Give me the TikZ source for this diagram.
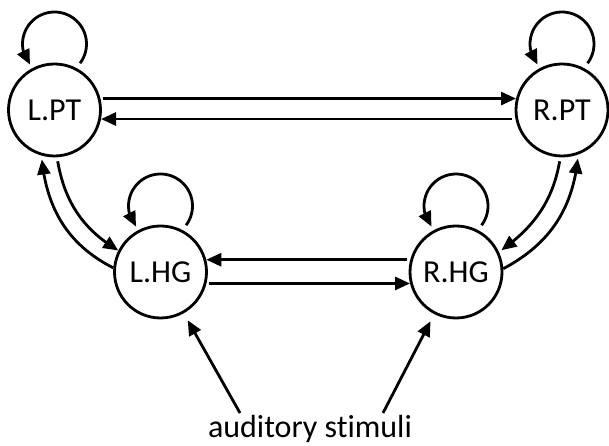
\documentclass[tikz,border=0pt]{standalone}
\usepackage{fontspec}
\setmainfont{Carlito}[Ligatures=NoCommon]
\usetikzlibrary{arrows.meta,bending,calc}
\begin{document}
\begin{tikzpicture}[x=1pt,y=1pt,
  state/.style={circle, draw, line width=2.8pt, minimum size=92pt, inner sep=0pt,
    font=\fontsize{32}{38}\selectfont},
  arr/.style={line width=2.8pt, -{Triangle[length=15pt,width=13pt,flex]}},
  lab/.style={font=\fontsize{32}{38}\selectfont}]
\useasboundingbox (0,0) rectangle (609,446);

% regions
\node[state] (LPT) at (54.5,336) {L.PT};
\node[state] (RPT) at (562,336) {R.PT};
\node[state] (LHG) at (160.5,174) {L.HG};
\node[state] (RHG) at (456,174) {R.HG};
\node[lab, anchor=base] (stim) at (310,8) {auditory stimuli};
\coordinate (s1) at (240,33);
\coordinate (s2) at (383,33);

% self connections
\foreach \n in {LPT,RPT,LHG,RHG}
  \draw[arr] ($(\n)+(0,66)+(-37:32)$) arc[start angle=-37, end angle=220, radius=32];

% interhemispheric connections
\draw[arr, shorten <=3pt] (LPT.14) -- (RPT.166);
\draw[arr, shorten <=3pt] (RPT.-169) -- (LPT.-11);
\draw[arr, shorten <=3pt] (RHG.165) -- (LHG.15);
\draw[arr, shorten <=3pt] (LHG.-14) -- (RHG.-166);

% PT <-> HG within each hemisphere
\draw[arr, shorten <=4pt] (LPT.-87) to[out=-80, in=149] (LHG.153);
\draw[arr, shorten >=4pt] (LHG.175) to[out=153, in=-85] (LPT.-106);
\draw[arr, shorten <=4pt, shorten >=3pt] (RPT.-92) to[out=-100, in=35] (RHG.25);
\draw[arr, shorten >=4pt] (RHG.4) to[out=28, in=-95] (RPT.-70);

% input
\draw[arr, shorten >=8pt] (s1) -- (LHG);
\draw[arr, shorten >=8pt] (s2) -- (RHG);
\end{tikzpicture}
\end{document}
